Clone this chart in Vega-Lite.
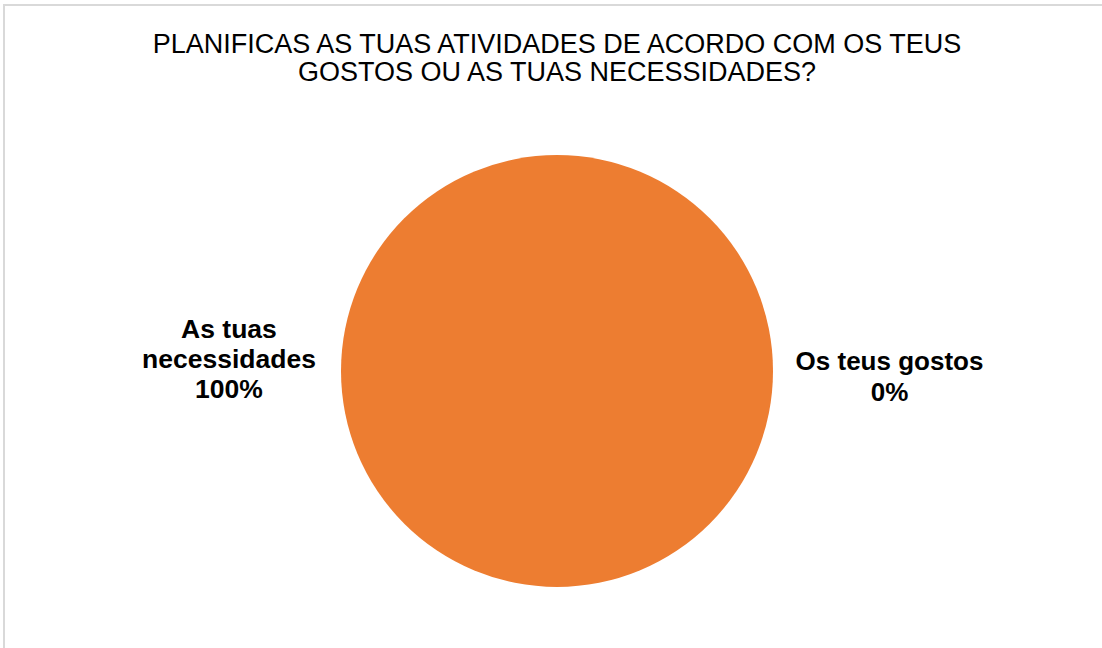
{
  "$schema": "https://vega.github.io/schema/vega-lite/v6.json",
  "autosize": {"type": "none"},
  "width": 1106,
  "height": 732,
  "padding": {"left": 4, "top": 5, "right": 0, "bottom": 0},
  "background": "white",
  "view": {"stroke": "#d9d9d9", "strokeWidth": 2, "fill": "white"},
  "config": {
    "view": {"stroke": "#d9d9d9", "strokeWidth": 2},
    "font": "Liberation Sans"
  },
  "title": {
    "text": ["PLANIFICAS AS TUAS ATIVIDADES DE ACORDO COM OS TEUS", "GOSTOS OU AS TUAS NECESSIDADES?"],
    "orient": "top",
    "anchor": "middle",
    "baseline": "top",
    "offset": 0,
    "dy": 82,
    "font": "Liberation Sans",
    "fontSize": 27,
    "fontWeight": "normal",
    "lineHeight": 28,
    "color": "#000000"
  },
  "data": {
    "values": [
      {"category": "Os teus gostos", "value": 0, "label": "Os teus gostos\n0%"},
      {"category": "As tuas necessidades", "value": 100, "label": "As tuas\nnecessidades\n100%"}
    ]
  },
  "layer": [
    {
      "mark": {"type": "arc", "outerRadius": 216},
      "encoding": {
        "theta": {"field": "value", "type": "quantitative", "stack": true},
        "order": {"field": "value", "type": "quantitative", "sort": "ascending"},
        "color": {
          "field": "category",
          "type": "nominal",
          "scale": {"domain": ["Os teus gostos", "As tuas necessidades"], "range": ["#4472C4", "#ED7D31"]},
          "legend": null
        }
      }
    },
    {
      "transform": [{"filter": "datum.category === 'As tuas necessidades'"}],
      "mark": {
        "type": "text",
        "theta": 4.837,
        "radius": 330.6,
        "lineBreak": "\n",
        "font": "Liberation Sans",
        "fontSize": 26.5,
        "fontWeight": "bold",
        "lineHeight": 30,
        "align": "center",
        "baseline": "middle",
        "color": "#000000"
      },
      "encoding": {"text": {"field": "label", "type": "nominal"}}
    },
    {
      "transform": [{"filter": "datum.category === 'Os teus gostos'"}],
      "mark": {
        "type": "text",
        "theta": 1.5437,
        "radius": 332.6,
        "lineBreak": "\n",
        "font": "Liberation Sans",
        "fontSize": 26,
        "fontWeight": "bold",
        "lineHeight": 31,
        "align": "center",
        "baseline": "middle",
        "color": "#000000"
      },
      "encoding": {"text": {"field": "label", "type": "nominal"}}
    }
  ]
}
